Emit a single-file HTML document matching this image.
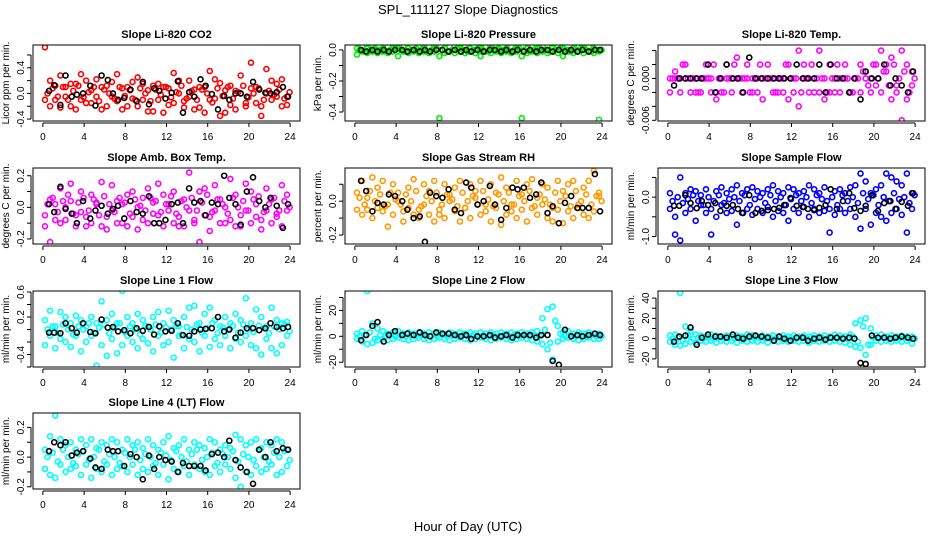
<!DOCTYPE html>
<html><head><meta charset="utf-8"><style>
body{margin:0;background:#fff}
svg{display:block;font-family:"Liberation Sans",sans-serif}
</style></head><body>
<svg id="chart" width="936" height="540" viewBox="0 0 936 540">
<rect width="936" height="540" fill="#fff"/>
<text x="468" y="14" text-anchor="middle" font-size="13">SPL_111127  Slope Diagnostics</text>
<text x="468" y="531" text-anchor="middle" font-size="13">Hour of Day (UTC)</text>
</svg>
<script>
const hours=[0.2,0.7,1.2,1.7,2.2,2.7,3.2,3.7,4.2,4.7,5.2,5.7,6.2,6.7,7.2,7.7,8.2,8.7,9.2,9.7,10.2,10.7,11.2,11.7,12.2,12.7,13.2,13.7,14.2,14.7,15.2,15.7,16.2,16.7,17.2,17.7,18.2,18.7,19.2,19.7,20.2,20.7,21.2,21.7,22.2,22.7,23.2,23.7];
const hoursMid=[0.45,0.95,1.45,1.95,2.45,2.95,3.45,3.95,4.45,4.95,5.45,5.95,6.45,6.95,7.45,7.95,8.45,8.95,9.45,9.95,10.45,10.95,11.45,11.95,12.45,12.95,13.45,13.95,14.45,14.95,15.45,15.95,16.45,16.95,17.45,17.95,18.45,18.95,19.45,19.95,20.45,20.95,21.45,21.95,22.45,22.95,23.45,23.95];
const blackHours=[0.6,1.1,1.7,2.2,2.8,3.3,3.9,4.6,5.1,5.7,6.3,6.8,7.3,7.9,8.5,9.1,9.7,10.3,10.8,11.3,11.9,12.5,13.1,13.6,14.2,14.7,15.3,15.8,16.4,17.0,17.6,18.1,18.7,19.2,19.8,20.4,21.0,21.6,22.1,22.7,23.3,23.8];
const xTicks=[0,4,8,12,16,20,24];

const co2A=[0.72,0.2,-0.1,0.28,0.1,-0.2,0.15,0.3,-0.15,0.05,0.22,-0.25,0.12,-0.05,0.3,0.08,-0.2,0.18,0.25,-0.1,0.05,-0.28,0.15,0.1,-0.18,0.32,0.0,-0.12,0.2,0.06,-0.22,0.1,0.35,-0.08,0.16,-0.3,0.12,0.04,0.28,-0.15,0.48,0.1,-0.2,0.38,0.2,-0.05,0.22,-0.18];
const co2B=[-0.1,-0.2,0.12,-0.22,-0.05,0.15,-0.25,-0.1,0.2,-0.15,-0.05,0.1,-0.2,0.18,-0.12,-0.25,0.1,-0.08,-0.2,0.15,-0.28,0.12,-0.1,-0.3,0.08,-0.15,0.2,-0.22,-0.05,-0.25,0.1,-0.3,-0.1,0.22,-0.35,0.05,-0.18,-0.25,0.0,-0.2,0.08,-0.15,-0.35,0.0,-0.1,0.15,-0.2,-0.05];
const co2C=[0.0,0.08,-0.05,0.1,-0.1,0.04,0.12,-0.06,0.02,0.1,-0.12,0.06,0.0,-0.08,0.1,-0.04,0.05,-0.1,0.08,0.0,-0.12,0.06,-0.02,0.1,-0.06,0.02,0.12,-0.08,0.04,-0.1,0.06,0.0,-0.14,0.08,-0.04,0.1,-0.08,0.02,0.12,-0.06,0.0,0.08,-0.1,0.04,-0.02,0.06,-0.08,0.02];
const co2K=[0.04,0.13,-0.18,0.28,-0.05,-0.02,0.0,0.12,-0.19,0.28,0.21,0.0,-0.1,-0.07,0.06,-0.12,0.18,-0.17,0.08,0.04,-0.08,0.01,0.19,-0.3,0.02,-0.05,0.22,0.12,-0.01,-0.25,-0.04,-0.1,0.0,0.0,-0.05,0.18,0.06,0.01,0.0,0.02,0.1,-0.05];

const presA=[0.01,0.02,0.01,0.02,0.0,0.01,0.02,0.01,0.01,0.02,0.01,0.0,0.02,0.01,0.02,0.01,-0.44,0.01,0.02,0.0,0.01,0.02,0.01,0.0,0.01,0.02,0.01,0.02,0.0,0.01,0.02,0.01,-0.44,0.01,0.02,0.01,0.0,0.02,0.01,0.02,0.01,0.0,0.01,0.02,0.01,0.02,0.01,-0.45];
const presB=[-0.03,-0.01,-0.02,-0.01,-0.02,-0.01,-0.02,-0.01,-0.04,-0.01,-0.02,-0.01,-0.02,-0.01,-0.02,-0.01,-0.04,-0.02,-0.01,-0.02,-0.01,-0.02,-0.01,-0.02,-0.04,-0.01,-0.02,-0.01,-0.02,-0.01,-0.02,-0.01,-0.04,-0.02,-0.01,-0.02,-0.01,-0.02,-0.01,-0.02,-0.04,-0.01,-0.02,-0.01,-0.02,-0.01,-0.02,-0.01];
const presC=[0.0,-0.01,0.0,0.01,0.0,-0.01,0.0,0.01,0.0,-0.01,0.0,0.01,0.0,-0.01,0.0,0.01,0.0,-0.01,0.0,0.01,0.0,-0.01,0.0,0.01,0.0,-0.01,0.0,0.01,0.0,-0.01,0.0,0.01,0.0,-0.01,0.0,0.01,0.0,-0.01,0.0,0.01,0.0,-0.01,0.0,0.01,0.0,-0.01,0.0,0.0];
const presK=[0.0,-0.01,0.0,-0.01,0.0,-0.01,0.0,0.0,-0.01,0.0,-0.01,0.0,-0.01,0.0,0.0,-0.01,0.0,-0.01,0.0,-0.01,0.0,-0.01,0.0,0.0,-0.01,0.0,-0.01,0.0,-0.01,0.0,-0.01,0.0,0.0,-0.01,0.0,-0.01,0.0,-0.01,0.0,-0.01,0.0,0.0];

const ltA=[0.0,0.001,0.0,0.002,0.0,-0.002,0.0,0.002,0.0,-0.002,0.0,0.002,0.0,0.003,0.0,0.002,0.0,-0.002,0.0,0.002,0.0,-0.002,0.0,0.002,0.0,0.004,0.002,0.0,-0.002,0.004,0.0,0.002,-0.002,0.0,0.002,-0.002,0.0,0.002,0.0,-0.002,0.002,0.004,0.002,0.003,-0.002,0.004,0.002,-0.001];
const ltB=[-0.002,0.0,-0.002,0.0,-0.002,0.0,-0.002,0.0,-0.002,-0.003,-0.002,0.0,-0.002,0.0,-0.002,0.0,-0.002,0.0,-0.003,0.0,-0.002,0.0,-0.002,-0.003,-0.002,-0.004,0.0,-0.002,0.0,-0.002,-0.003,-0.002,0.0,-0.002,0.0,-0.002,0.0,-0.002,0.001,0.0,-0.001,-0.002,0.001,-0.003,-0.001,-0.006,-0.003,0.001];
const ltC=[0.0,0.0,0.002,0.0,0.0,-0.002,0.0,0.0,0.002,0.0,-0.002,0.0,0.002,0.0,0.0,-0.002,0.0,0.002,0.0,0.0,-0.002,0.0,0.002,0.0,0.0,-0.002,0.0,0.002,0.0,0.0,-0.002,0.0,0.002,0.0,0.0,-0.002,0.0,0.001,-0.001,0.002,0.0,0.001,-0.001,0.002,0.0,0.001,-0.002,0.0];
const ltK=[-0.001,0.0,0.0,0.0,0.0,0.0,0.002,-0.002,0.0,0.002,0.0,0.0,-0.002,0.003,0.0,0.0,0.0,0.0,0.0,0.0,0.0,0.002,0.0,0.0,0.0,0.002,-0.002,0.002,0.0,0.0,-0.002,0.0,-0.003,0.001,0.0,0.0,0.002,-0.001,0.0,-0.001,-0.002,0.001];

const ambA=[-0.12,0.05,-0.08,0.12,0.0,0.15,-0.05,0.1,-0.12,0.08,0.02,0.16,-0.06,0.14,0.04,-0.1,0.08,0.1,-0.14,0.06,0.12,-0.04,0.15,0.08,-0.02,0.1,-0.12,0.05,0.22,-0.08,0.1,0.12,-0.06,0.14,0.05,-0.1,0.18,0.08,-0.12,0.15,0.1,0.02,-0.08,0.12,0.05,-0.06,0.14,0.08];
const ambB=[-0.05,-0.22,0.02,-0.1,-0.08,0.04,-0.12,-0.03,-0.06,-0.1,0.03,-0.12,-0.14,-0.02,-0.1,0.02,-0.12,-0.06,0.0,-0.08,-0.1,0.03,-0.05,-0.12,0.02,-0.1,-0.06,-0.12,-0.02,-0.1,-0.22,-0.05,-0.15,-0.02,-0.1,0.0,-0.08,-0.12,-0.05,-0.02,-0.1,-0.06,-0.14,-0.02,-0.1,-0.04,-0.12,-0.02];
const ambC=[0.02,0.06,-0.03,0.04,0.08,-0.04,0.03,0.06,-0.02,0.05,-0.05,0.07,0.02,-0.03,0.06,0.03,-0.04,0.05,0.01,-0.02,0.06,0.04,-0.03,0.02,0.07,-0.04,0.04,0.0,0.06,-0.02,0.03,0.08,-0.03,0.05,0.02,-0.04,0.06,0.0,0.04,-0.02,0.05,0.07,-0.03,0.02,0.06,-0.02,0.04,0.0];
const ambK=[0.02,-0.03,0.13,-0.01,-0.04,-0.1,0.04,-0.07,-0.02,0.01,-0.04,-0.01,0.01,-0.07,0.04,-0.03,-0.04,0.07,-0.1,-0.1,-0.08,0.02,0.03,-0.1,0.12,0.03,0.04,-0.05,0.03,0.02,0.2,0.06,0.02,-0.11,0.1,0.19,0.04,0.0,0.06,0.01,-0.13,0.02];

const rhA=[0.05,0.12,-0.05,0.14,0.08,0.12,-0.02,0.1,0.05,-0.06,0.08,0.13,-0.05,0.1,0.06,0.12,-0.08,0.1,0.04,0.08,0.12,-0.04,0.1,0.06,0.12,-0.02,0.1,0.05,0.14,0.08,-0.06,0.12,0.04,0.1,0.13,0.02,0.1,0.08,-0.04,0.12,0.06,0.1,0.12,-0.02,0.08,0.12,0.18,0.05];
const rhB=[-0.05,-0.08,0.02,-0.1,-0.04,-0.06,-0.15,-0.08,0.0,-0.12,-0.04,-0.08,-0.1,-0.02,-0.08,-0.12,-0.05,-0.1,0.0,-0.06,-0.12,-0.04,-0.1,0.02,-0.08,-0.06,-0.12,-0.04,-0.14,-0.08,-0.02,-0.1,-0.05,-0.12,-0.04,-0.08,-0.02,-0.1,-0.12,-0.05,-0.13,-0.06,-0.1,-0.04,-0.08,-0.1,-0.06,0.03];
const rhC=[0.02,-0.02,0.06,0.0,0.04,-0.03,0.05,0.01,-0.02,0.04,0.0,0.06,-0.03,0.03,0.0,0.05,-0.02,0.04,0.01,-0.03,0.05,0.0,0.03,-0.02,0.06,0.01,-0.03,0.04,0.0,0.05,-0.02,0.03,0.0,0.06,-0.03,0.04,0.01,-0.02,0.05,0.0,0.03,-0.03,0.06,0.0,0.04,-0.02,0.03,0.0];
const rhK=[0.12,0.06,-0.06,-0.01,-0.02,0.04,0.03,0.0,-0.05,-0.1,-0.09,-0.24,0.05,0.03,0.02,0.07,-0.05,-0.07,0.11,0.08,-0.02,0.0,0.09,-0.02,-0.11,-0.04,0.08,0.07,0.08,0.02,0.04,0.11,-0.07,-0.03,-0.13,-0.01,0.03,-0.04,-0.04,-0.04,0.16,-0.06];

const flowA=[0.1,-0.95,0.5,0.1,0.2,0.15,0.05,0.2,-0.95,0.15,0.25,0.1,0.2,0.3,0.1,0.2,0.25,0.15,0.1,0.2,0.3,0.15,0.1,0.25,0.2,0.1,0.15,0.3,0.2,0.1,0.25,-0.9,0.15,0.2,0.1,0.25,0.3,0.6,0.4,0.1,0.2,0.3,0.6,0.5,0.4,0.3,0.6,0.1];
const flowB=[-0.3,-0.5,-1.1,-0.4,-0.3,-0.6,-0.2,-0.4,-0.3,-0.5,-0.2,-0.4,-0.35,-0.7,-0.4,-0.3,-0.45,-0.3,-0.4,-0.25,-0.5,-0.35,-0.4,-0.6,-0.3,-0.4,-0.25,-0.5,-0.3,-0.4,-0.35,-0.3,-0.45,-0.3,-0.4,-0.3,-0.5,-0.8,-0.3,-0.7,-0.4,-0.5,-0.6,-0.4,-0.3,-0.45,-0.9,-0.3];
const flowC=[-0.1,0.0,-0.15,-0.05,0.05,-0.1,-0.2,0.0,-0.1,0.05,-0.15,-0.05,0.0,-0.1,0.05,-0.2,-0.05,0.0,-0.15,0.05,-0.1,0.0,-0.2,-0.05,0.05,-0.1,0.0,-0.15,0.05,-0.05,-0.1,0.0,-0.2,0.05,-0.1,0.0,-0.15,0.1,-0.05,0.05,-0.2,0.0,-0.1,0.1,-0.05,0.0,-0.15,0.05];
const flowK=[-0.22,-0.22,0.05,-0.15,-0.28,-0.1,-0.2,-0.15,-0.35,-0.22,-0.2,-0.3,-0.4,0.05,-0.4,-0.35,-0.33,-0.3,-0.27,-0.2,-0.02,-0.22,-0.25,-0.3,-0.33,-0.27,-0.2,0.2,-0.3,-0.1,0.1,-0.28,-0.35,-0.22,0.05,-0.35,-0.15,-0.1,-0.3,-0.12,-0.22,0.1];

const l1A=[0.15,0.3,0.05,0.28,0.2,0.1,0.22,0.15,0.05,0.2,0.1,0.45,0.15,0.25,0.1,0.62,0.2,0.1,0.25,0.15,0.05,0.2,0.28,0.1,0.3,0.15,0.05,0.2,0.35,0.38,0.1,0.25,0.35,0.15,0.05,0.2,0.1,0.25,0.15,0.5,0.1,0.32,0.2,0.05,0.35,0.15,0.1,0.12];
const l1B=[-0.25,-0.1,-0.3,-0.15,-0.2,-0.28,-0.1,-0.35,-0.2,-0.1,-0.58,-0.25,-0.42,-0.15,-0.38,-0.25,-0.1,-0.2,-0.3,-0.15,-0.22,-0.35,-0.1,-0.25,-0.2,-0.45,-0.1,-0.3,-0.15,-0.2,-0.35,-0.1,-0.28,-0.15,-0.25,-0.1,-0.3,-0.15,-0.2,-0.1,-0.25,-0.3,-0.4,-0.15,-0.3,-0.38,-0.25,-0.1];
const l1C=[0.0,0.05,-0.05,0.08,0.0,-0.08,0.05,0.0,0.1,-0.05,0.03,0.08,-0.06,0.02,0.1,-0.04,0.05,0.0,-0.08,0.06,0.0,0.08,-0.05,0.03,0.0,0.06,-0.08,0.04,0.0,0.08,-0.05,0.02,0.1,-0.06,0.03,0.0,0.06,-0.05,0.08,0.0,-0.04,0.06,0.02,-0.06,0.05,0.0,0.08,-0.03];
const l1K=[-0.05,-0.05,-0.06,0.1,0.02,-0.05,0.1,-0.04,-0.06,0.16,0.03,0.04,-0.03,-0.01,-0.06,0.02,-0.02,0.04,-0.08,0.05,-0.03,-0.02,0.1,-0.09,-0.1,-0.03,0.0,0.01,0.02,0.2,-0.03,0.0,-0.13,-0.05,0.02,0.02,-0.01,0.02,0.1,0.04,0.02,0.04];

const l2A=[2,4,35,10,6,4,2,3,4,2,3,2,3,2,3,2,3,2,3,2,3,2,3,2,3,2,3,2,3,2,3,2,3,2,3,4,14,21,23,8,3,4,2,3,2,3,2,2];
const l2B=[-2,-4,-6,-5,-3,-2,-3,-2,-1,-2,-3,-2,-1,-2,-3,-2,-1,-2,-3,-2,-1,-2,-3,-2,-1,-2,-3,-2,-1,-2,-3,-2,-1,-2,-3,-4,-6,-10,-18,-4,-2,-1,-2,-3,-2,-1,-2,-2];
const l2C=[0,1,3,-2,1,0,1,0,1,0,1,0,1,0,1,0,1,0,1,0,1,0,1,0,1,0,1,0,1,0,1,0,1,0,1,0,5,-5,12,2,0,1,0,1,0,1,0,0];
const l2K=[-3,1,8,11,-4,1,4,1,2,1,3,1,0,3,2,2,1,0,1,-2,0,0,1,-1,0,1,-1,1,1,1,-1,1,1,-19,-22,5,0,1,0,1,2,1];

const l3A=[3,4,45,12,8,4,3,2,4,3,2,3,2,3,2,4,3,2,3,2,3,2,3,2,3,2,3,2,3,2,3,2,4,3,2,4,15,18,20,10,3,4,2,3,2,3,2,2];
const l3B=[-3,-6,-7,-5,-3,-4,-2,-3,-2,-4,-2,-3,-2,-4,-2,-3,-2,-3,-2,-4,-2,-3,-2,-3,-2,-3,-2,-4,-2,-3,-2,-3,-2,-3,-4,-6,-8,-9,-16,-6,-2,-3,-2,-3,-2,-3,-2,-5];
const l3C=[0,1,-2,3,0,1,0,1,0,1,0,1,0,1,0,1,0,1,0,1,0,1,0,1,0,1,0,1,0,1,0,1,0,1,0,2,-3,12,-6,1,0,1,0,1,0,1,0,0];
const l3K=[-3,2,3,11,-6,1,4,2,2,1,4,1,0,2,3,2,1,-2,2,0,-2,1,1,-2,0,1,-1,1,1,0,1,0,-24,-25,3,1,1,0,1,2,1,0];

const l4A=[0.05,0.14,0.28,0.12,0.08,0.1,0.05,0.12,0.08,0.12,0.06,0.1,0.08,0.12,0.1,0.05,0.12,0.08,0.1,0.06,0.12,0.08,0.05,0.1,0.14,0.06,0.08,0.12,0.05,0.1,0.08,0.06,0.12,0.1,0.05,0.08,0.06,0.15,0.12,0.08,0.1,0.12,0.06,0.1,0.08,0.12,0.1,0.05];
const l4B=[-0.08,-0.12,-0.14,-0.05,-0.1,-0.08,-0.06,-0.12,-0.05,-0.14,-0.08,-0.1,-0.05,-0.12,-0.08,-0.06,-0.1,-0.05,-0.12,-0.08,-0.1,-0.06,-0.12,-0.05,-0.15,-0.08,-0.1,-0.06,-0.12,-0.05,-0.08,-0.1,-0.12,-0.06,-0.1,-0.05,-0.08,-0.14,-0.2,-0.1,-0.12,-0.06,-0.1,-0.08,-0.05,-0.12,-0.1,-0.06];
const l4C=[0.0,0.03,-0.03,0.05,0.0,-0.04,0.02,0.04,-0.02,0.0,0.05,-0.03,0.02,0.0,-0.04,0.03,0.0,0.05,-0.02,0.02,0.0,-0.04,0.03,0.01,-0.02,0.04,0.0,-0.03,0.02,0.05,-0.02,0.0,0.03,-0.04,0.02,0.0,0.04,-0.03,0.02,0.0,-0.02,0.05,0.0,-0.03,0.03,0.0,0.04,-0.02];
const l4K=[0.04,0.1,0.08,0.1,0.01,0.03,0.04,-0.01,-0.07,-0.08,0.05,0.04,0.04,-0.06,0.02,0.0,-0.15,0.01,-0.08,0.0,-0.02,-0.03,-0.1,-0.04,-0.06,-0.06,-0.06,-0.09,0.02,0.03,0.0,0.11,-0.02,-0.07,-0.1,-0.18,0.05,0.0,0.1,0.04,0.06,0.05];

const svg=document.getElementById('chart');
const NS='http://www.w3.org/2000/svg';
function mk(tag,attrs){const e=document.createElementNS(NS,tag);for(const k in attrs)e.setAttribute(k,attrs[k]);svg.appendChild(e);return e;}

const panels=[
 {name:'co2',title:'Slope Li-820 CO2',ylab:'Licor ppm per min.',col:0,row:0,ymin:-0.43,ymax:0.756,ticks:[-0.4,-0.2,0,0.2,0.4,0.6],labels:['-0.4','0.0','0.4'],color:'#ff0000',a:co2A,b:co2B,c:co2C,k:co2K},
 {name:'pressure',title:'Slope Li-820 Pressure',ylab:'kPa per min.',col:1,row:0,ymin:-0.458,ymax:0.032,ticks:[-0.4,-0.3,-0.2,-0.1,0],labels:['-0.4','-0.2','0.0'],color:'#00ee00',a:presA,b:presB,c:presC,k:presK},
 {name:'li820-temp',title:'Slope Li-820 Temp.',ylab:'degrees C per min.',col:2,row:0,ymin:-0.0061,ymax:0.0048,ticks:[-0.006,-0.004,-0.002,0,0.002,0.004],labels:['-0.006','0.000'],color:'#ff00ff',a:ltA,b:ltB,c:ltC,k:ltK},
 {name:'amb-box-temp',title:'Slope Amb. Box Temp.',ylab:'degrees C per min.',col:0,row:1,ymin:-0.232,ymax:0.249,ticks:[-0.2,-0.1,0,0.1,0.2],labels:['-0.2','0.0','0.2'],color:'#ff00ff',a:ambA,b:ambB,c:ambC,k:ambK},
 {name:'gas-stream-rh',title:'Slope Gas Stream RH',ylab:'percent per min.',col:1,row:1,ymin:-0.253,ymax:0.196,ticks:[-0.2,-0.1,0,0.1],labels:['-0.2','0.0'],color:'#ff9900',a:rhA,b:rhB,c:rhC,k:rhK},
 {name:'sample-flow',title:'Slope Sample Flow',ylab:'ml/min per min.',col:2,row:1,ymin:-1.19,ymax:0.74,ticks:[-1,-0.5,0,0.5],labels:['-1.0','0.0'],color:'#0000ff',a:flowA,b:flowB,c:flowC,k:flowK},
 {name:'line1-flow',title:'Slope Line 1 Flow',ylab:'ml/min per min.',col:0,row:2,ymin:-0.6,ymax:0.616,ticks:[-0.6,-0.4,-0.2,0,0.2,0.4,0.6],labels:['-0.4','0.2','0.6'],color:'#00ffff',a:l1A,b:l1B,c:l1C,k:l1K},
 {name:'line2-flow',title:'Slope Line 2 Flow',ylab:'ml/min per min.',col:1,row:2,ymin:-23.7,ymax:35,ticks:[-20,-10,0,10,20,30],labels:['-20','0','20'],color:'#00ffff',a:l2A,b:l2B,c:l2C,k:l2K},
 {name:'line3-flow',title:'Slope Line 3 Flow',ylab:'ml/min per min.',col:2,row:2,ymin:-28,ymax:47,ticks:[-20,-10,0,10,20,30,40],labels:['-20','0','20','40'],color:'#00ffff',a:l3A,b:l3B,c:l3C,k:l3K},
 {name:'line4-flow',title:'Slope Line 4 (LT) Flow',ylab:'ml/min per min.',col:0,row:3,ymin:-0.215,ymax:0.297,ticks:[-0.2,-0.1,0,0.1,0.2],labels:['-0.2','0.0','0.2'],color:'#00ffff',a:l4A,b:l4B,c:l4C,k:l4K}
];
const colLeft=[33,345,658], rowTop=[45,168,291,413], PW=267, PH=76;

panels.forEach(p=>{
  const L=colLeft[p.col], T=rowTop[p.row], R=L+PW, B=T+PH;
  const xs=h=>L+PW*(h+0.96)/25.92;
  const ys=v=>B-PH*(v-p.ymin)/(p.ymax-p.ymin);
  const cp=mk('clipPath',{id:'clip-'+p.name});
  const cr=document.createElementNS(NS,'rect');cr.setAttribute('x',L);cr.setAttribute('y',T);cr.setAttribute('width',PW);cr.setAttribute('height',PH);cp.appendChild(cr);
  const pts=mk('g',{'clip-path':'url(#clip-'+p.name+')'});
  
  
  function dot(h,v,color,nm){
    const c=document.createElementNS(NS,'circle');
    c.setAttribute('cx',xs(h));c.setAttribute('cy',ys(v));c.setAttribute('r',2.5);
    c.setAttribute('fill','none');c.setAttribute('stroke',color);c.setAttribute('stroke-width',1.6);
    
    
    pts.appendChild(c);
  }
  [[p.a,hours],[p.b,hours],[p.c,hoursMid]].forEach(([arr,hs])=>{
    arr.forEach((v,i)=>{ if(i<hs.length) dot(hs[i],v,p.color,'data-point'); });
  });
  p.k.forEach((v,i)=>{ if(i<blackHours.length) dot(blackHours[i],v,'#000','hourly-point'); });
  const box=mk('rect',{x:L,y:T,width:PW,height:PH,fill:'none',stroke:'#000','stroke-width':1});
  
  
  const tt=mk('text',{x:(L+R)/2,y:T-7,'text-anchor':'middle','font-size':11,'font-weight':'bold'});
  tt.textContent=p.title;
  
  
  mk('line',{x1:xs(xTicks[0]),x2:xs(xTicks[xTicks.length-1]),y1:B+2,y2:B+2,stroke:'#000'});
  xTicks.forEach(t=>{
    mk('line',{x1:xs(t),x2:xs(t),y1:B+2,y2:B+6,stroke:'#000'});
    const lt=mk('text',{x:xs(t),y:B+19,'text-anchor':'middle','font-size':10});
    lt.textContent=t;
    
    
  });
  const t0=p.ticks[0], t1=p.ticks[p.ticks.length-1];
  mk('line',{x1:L-2,x2:L-2,y1:ys(t0),y2:ys(t1),stroke:'#000'});
  p.ticks.forEach(t=>{
    mk('line',{x1:L-6,x2:L-2,y1:ys(t),y2:ys(t),stroke:'#000'});
  });
  p.labels.forEach(s=>{
    const y=ys(parseFloat(s));
    const lt=mk('text',{x:L-9,y:y,'text-anchor':'middle','font-size':10,transform:'rotate(-90 '+(L-9)+' '+y+')'});
    lt.textContent=s;
    
    
  });
  const yl=mk('text',{x:L-24,y:(T+B)/2,'text-anchor':'middle','font-size':10,transform:'rotate(-90 '+(L-24)+' '+((T+B)/2)+')'});
  yl.textContent=p.ylab;
  
  
});
</script>
</body></html>
